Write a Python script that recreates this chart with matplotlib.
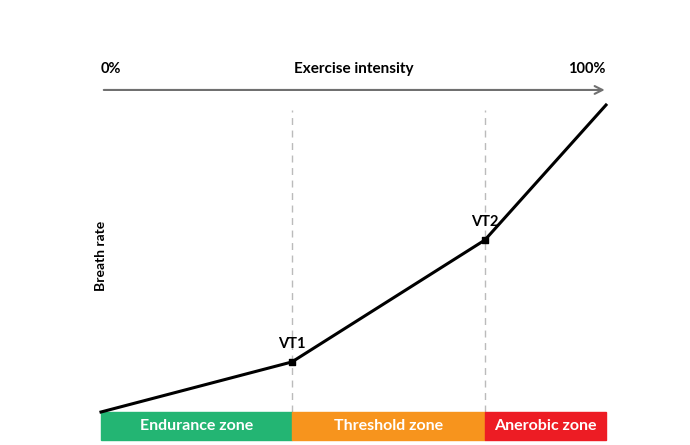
import matplotlib.pyplot as plt

# exercise intensity (%) vs breath rate (relative units)
intensity = [0, 37.8, 76.0, 100]
breath = [0, 16.3, 56.0, 100]
thresholds = ["VT1", "VT2"]
zone_names = ["Endurance zone", "Threshold zone", "Anerobic zone"]
zone_edges = [0, 37.8, 76.0, 100]
zone_colors = ["#23b573", "#f7941d", "#ed1c24"]

plt.rcParams['font.family'] = ['Lato', 'DejaVu Sans']

fig = plt.figure(figsize=(6.9, 4.45), dpi=100)
ax = fig.add_axes([101 / 690, 33 / 445, 505 / 690, 307 / 445])
ax.set_xlim(0, 100)
ax.set_ylim(0, 100)
ax.axis("off")

# dashed threshold guides
for x in intensity[1:3]:
    ax.plot([x, x], [0, 98.4], color="#bbbbbb", lw=1, ls=(0, (5, 4)), clip_on=False, zorder=1)

# breath curve
ax.plot(intensity, breath, color="black", lw=2.2, clip_on=False, zorder=3)
ax.scatter(intensity[1:3], breath[1:3], marker="s", s=16, color="black", zorder=4)
for name, x, y in zip(thresholds, intensity[1:3], breath[1:3]):
    ax.text(x, y + 3.5, name, ha="center", va="bottom", fontsize=10.5, fontweight="bold")

# intensity arrow on top
ax.annotate("", xy=(100.3, 104.9), xytext=(0, 104.9), annotation_clip=False,
            arrowprops=dict(arrowstyle="->", color="#707070", lw=1.5, mutation_scale=14))
ax.text(0, 109.5, "0%", ha="left", va="bottom", fontsize=10.5, fontweight="bold")
ax.text(50, 109.5, "Exercise intensity", ha="center", va="bottom", fontsize=11, fontweight="bold")
ax.text(100, 109.5, "100%", ha="right", va="bottom", fontsize=10.5, fontweight="bold")

ax.text(0, 51, "Breath rate", rotation=90, ha="center", va="center", fontsize=10, fontweight="bold")

# zone bars
for i, name in enumerate(zone_names):
    x0, x1 = zone_edges[i], zone_edges[i + 1]
    ax.add_patch(plt.Rectangle((x0, -9.1), x1 - x0, 9.1, color=zone_colors[i], clip_on=False, zorder=2))
    ax.text((x0 + x1) / 2, -4.5, name, ha="center", va="center", color="white",
            fontsize=11.5, fontweight="bold")

fig.savefig("out.png", dpi=100)
